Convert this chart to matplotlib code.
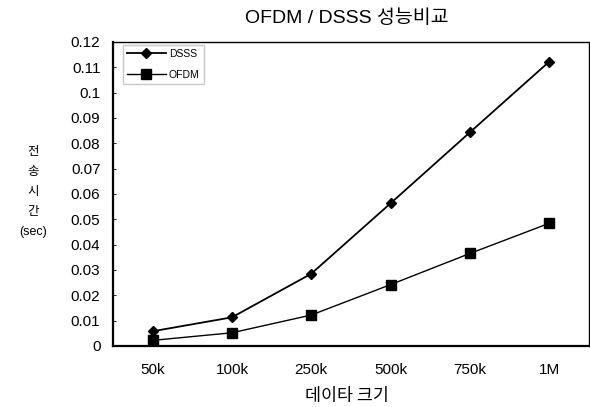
import matplotlib
matplotlib.use("Agg")
import matplotlib.pyplot as plt

sizes = ["50k", "100k", "250k", "500k", "750k", "1M"]
dsss = [0.0058, 0.0113, 0.0285, 0.0563, 0.0843, 0.1122]
ofdm = [0.0022, 0.0052, 0.0122, 0.0242, 0.0365, 0.0484]
yticks = [0, 0.01, 0.02, 0.03, 0.04, 0.05, 0.06, 0.07, 0.08, 0.09, 0.1, 0.11, 0.12]
ytick_labels = ["0", "0.01", "0.02", "0.03", "0.04", "0.05", "0.06", "0.07",
                "0.08", "0.09", "0.1", "0.11", "0.12"]

fam = ["Liberation Sans", "Noto Sans CJK KR", "DejaVu Sans"]
plt.rcParams["font.family"] = fam

fig = plt.figure(figsize=(5.9, 4.07), dpi=100)
ax = fig.add_axes([0.1915, 0.150, 0.8065, 0.747])
x = list(range(len(sizes)))
ax.plot(x, dsss, color="black", lw=1.3, marker="D", ms=5.5, label="DSSS")
ax.plot(x, ofdm, color="black", lw=1.0, marker="s", ms=7, label="OFDM")

ax.set_xlim(-0.5, len(sizes) - 0.5)
ax.set_ylim(0, 0.12)
ax.set_xticks(x)
ax.set_xticklabels(sizes, fontsize=11)
ax.set_yticks(yticks)
ax.set_yticklabels(ytick_labels, fontsize=11)
ax.tick_params(axis="y", direction="in", length=2, width=0.6, pad=9)
ax.tick_params(axis="x", length=0, pad=12)
for s in ax.spines.values():
    s.set_linewidth(1.0)
ax.spines["left"].set_linewidth(1.6)
ax.spines["bottom"].set_linewidth(1.6)

ax.legend(loc="upper left", fontsize=7.5, frameon=True, fancybox=False,
          edgecolor="#bbbbbb", handlelength=3.7, handletextpad=0.3,
          borderaxespad=0, labelspacing=1.0, bbox_to_anchor=(0.021, 0.99))

fig.text(0.588, 0.956, "OFDM / DSSS 성능비교", ha="center", va="center",
         fontsize=14)
fig.text(0.588, 0.028, "데이타 크기", ha="center", va="center",
         fontsize=12.5, family=["Noto Sans CJK KR", "DejaVu Sans"])
ylab = ["전", "송", "시", "간", "(sec)"]
for i, ch in enumerate(ylab):
    fig.text(33 / 590, 1 - (152 + 20 * i) / 407, ch, ha="center", va="center",
             fontsize=9)

fig.savefig("out.png", dpi=100)
